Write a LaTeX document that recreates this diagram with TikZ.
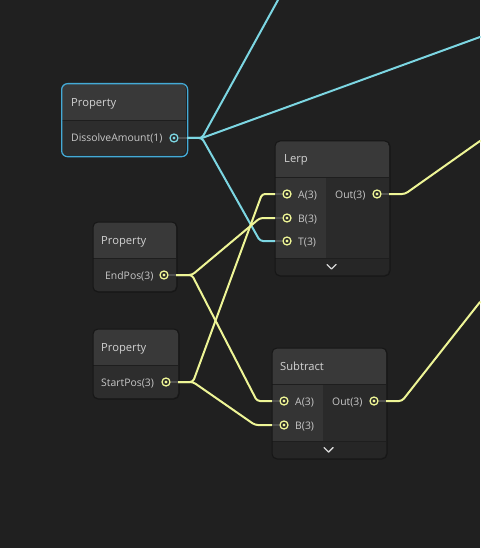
\documentclass[tikz,border=0pt]{standalone}
\usepackage{fontspec}
\setmainfont{Open Sans}
\begin{document}
\begin{tikzpicture}[x=1pt,y=-1pt,
  wirec/.style={line width=2pt, draw={rgb,255:red,124;green,214;blue,226}, rounded corners=3pt, line cap=round},
  wirey/.style={line width=2pt, draw={rgb,255:red,238;green,245;blue,150}, rounded corners=3pt, line cap=round},
  stub/.style={line width=1.6pt, draw={rgb,255:red,80;green,80;blue,80}},
  ttl/.style={anchor=base west, inner sep=0pt, font=\fontsize{11.2}{12}\selectfont, text={rgb,255:red,210;green,210;blue,210}},
  plbl/.style={anchor=base west, inner sep=0pt, font=\fontsize{10.4}{11}\selectfont, text={rgb,255:red,200;green,200;blue,200}},
  pdot/.style={circle, inner sep=0pt, minimum size=8pt, line width=1.3pt, draw=#1, fill={rgb,255:red,40;green,40;blue,40},
    path picture={\fill[#1] (path picture bounding box.center) circle (1.7pt);}},
  frame/.style={draw={rgb,255:red,22;green,22;blue,22}, line width=1pt, rounded corners=5pt},
]
\definecolor{bg}{RGB}{32,32,32}
\definecolor{hdr}{RGB}{57,57,57}
\definecolor{body}{RGB}{45,45,45}
\definecolor{incol}{RGB}{52,52,52}
\definecolor{outcol}{RGB}{42,42,42}
\definecolor{botbar}{RGB}{38,38,38}
\definecolor{divl}{RGB}{30,30,30}
\definecolor{cy}{RGB}{124,214,226}
\definecolor{ye}{RGB}{238,245,150}
\definecolor{sel}{RGB}{68,170,214}
\definecolor{chev}{RGB}{215,215,215}

\fill[bg] (0,0) rectangle (480,548);
\useasboundingbox (0,0) rectangle (480,548);

% ---------- Property: DissolveAmount ----------
\begin{scope}
\clip[rounded corners=5pt] (62,84) rectangle (186,155);
\fill[hdr] (62,84) rectangle (186,121);
\fill[body] (62,121) rectangle (186,155);
\draw[divl, line width=1pt] (62,121) -- (186,121);
\end{scope}
\node[frame, draw=sel, line width=1.3pt, minimum width=126pt, minimum height=73pt, anchor=north west, inner sep=0pt, rounded corners=6pt] (dis) at (61,83) {};
\node[ttl] (distitle) at (71,107) {Property};
\node[plbl] (dislbl) at (71,142) {DissolveAmount(1)};

% ---------- Property: EndPos ----------
\begin{scope}
\clip[rounded corners=5pt] (93,222) rectangle (176,291);
\fill[hdr] (93,222) rectangle (176,258);
\fill[body] (93,258) rectangle (176,291);
\draw[divl, line width=1pt] (93,258) -- (176,258);
\end{scope}
\node[frame, minimum width=84pt, minimum height=70pt, anchor=north west, inner sep=0pt] (endp) at (92.5,221.5) {};
\node[ttl] (endtitle) at (101,244) {Property};
\node[plbl] (endlbl) at (105,279) {EndPos(3)};

% ---------- Property: StartPos ----------
\begin{scope}
\clip[rounded corners=5pt] (93,329) rectangle (178,398);
\fill[hdr] (93,329) rectangle (178,365);
\fill[body] (93,365) rectangle (178,398);
\draw[divl, line width=1pt] (93,365) -- (178,365);
\end{scope}
\node[frame, minimum width=86pt, minimum height=70pt, anchor=north west, inner sep=0pt] (startp) at (92.5,328.5) {};
\node[ttl] (starttitle) at (101,351) {Property};
\node[plbl] (startlbl) at (101,386) {StartPos(3)};

% ---------- Lerp ----------
\begin{scope}
\clip[rounded corners=5pt] (275,141) rectangle (389,275);
\fill[hdr] (275,141) rectangle (389,177);
\fill[incol] (275,177) rectangle (326,258);
\fill[outcol] (326,177) rectangle (389,258);
\fill[botbar] (275,258) rectangle (389,275);
\draw[divl, line width=1pt] (275,177) -- (389,177);
\draw[divl, line width=1pt] (275,258) -- (389,258);
\end{scope}
\node[frame, minimum width=115pt, minimum height=135pt, anchor=north west, inner sep=0pt] (lerp) at (274.5,140.5) {};
\node[ttl] (lerptitle) at (284,163) {Lerp};
\node[plbl] (lerpA) at (298,198) {A(3)};
\node[plbl] (lerpB) at (298,222) {B(3)};
\node[plbl] (lerpT) at (298,245) {T(3)};
\node[plbl] (lerpOut) at (335,198) {Out(3)};
\draw[chev, line width=1.4pt, line cap=round, line join=round] (327,264.5) -- (331.5,269) -- (336,264.5);

% ---------- Subtract ----------
\begin{scope}
\clip[rounded corners=5pt] (272,348) rectangle (386,458);
\fill[hdr] (272,348) rectangle (386,384);
\fill[incol] (272,384) rectangle (323,441);
\fill[outcol] (323,384) rectangle (386,441);
\fill[botbar] (272,441) rectangle (386,458);
\draw[divl, line width=1pt] (272,384) -- (386,384);
\draw[divl, line width=1pt] (272,441) -- (386,441);
\end{scope}
\node[frame, minimum width=115pt, minimum height=111pt, anchor=north west, inner sep=0pt] (sub) at (271.5,347.5) {};
\node[ttl] (subtitle) at (280,370) {Subtract};
\node[plbl] (subA) at (295,405) {A(3)};
\node[plbl] (subB) at (295,429) {B(3)};
\node[plbl] (subOut) at (332,405) {Out(3)};
\draw[chev, line width=1.4pt, line cap=round, line join=round] (324,447.5) -- (328.5,452) -- (333,447.5);

% ---------- edge coordinates ----------
\coordinate (disE) at (187,138);
\coordinate (disJ) at (202,138);
\coordinate (topA) at (278,0);
\coordinate (topB) at (480,37);
\coordinate (endE) at (176,275);
\coordinate (endJ) at (192,275);
\coordinate (startE) at (178,382);
\coordinate (startJ) at (193,382);
\coordinate (lerpAE) at (275,194);
\coordinate (lerpBE) at (275,218);
\coordinate (lerpTE) at (275,241);
\coordinate (lerpOE) at (389,194);
\coordinate (lerpOJ) at (405,194);
\coordinate (lerpOX) at (480,141);
\coordinate (subAE) at (272,401);
\coordinate (subBE) at (272,425);
\coordinate (subOE) at (386,401);
\coordinate (subOJ) at (402,401);
\coordinate (subOX) at (480,302);

% ---------- wires ----------
\draw[wirec] (disE) -- (disJ) -- (topA);
\draw[wirec] (disJ) -- (topB);
\draw[wirec] (disE) -- (disJ) -- (260,241) -- (lerpTE);

\draw[wirey] (endE) -- (endJ) -- (260,218) -- (lerpBE);
\draw[wirey] (endE) -- (endJ) -- (257,401) -- (subAE);
\draw[wirey] (startE) -- (startJ) -- (262,194) -- (lerpAE);
\draw[wirey] (startE) -- (startJ) -- (255,425) -- (subBE);
\draw[wirey] (lerpOE) -- (lerpOJ) -- (lerpOX);
\draw[wirey] (subOE) -- (subOJ) -- (subOX);

% ---------- port dots & stubs ----------
\node[pdot=cy] (disO) at (174,138) {};
\draw[stub] (disO) -- (disE);
\node[pdot=ye] (endO) at (164,275) {};
\draw[stub] (endO) -- (endE);
\node[pdot=ye] (startO) at (166,382) {};
\draw[stub] (startO) -- (startE);

\node[pdot=ye] (lerpAd) at (287,194) {};
\node[pdot=ye] (lerpBd) at (287,218) {};
\node[pdot=ye] (lerpTd) at (287,241) {};
\node[pdot=ye] (lerpOd) at (377,194) {};
\draw[stub] (lerpAE) -- (lerpAd);
\draw[stub] (lerpBE) -- (lerpBd);
\draw[stub] (lerpTE) -- (lerpTd);
\draw[stub] (lerpOd) -- (lerpOE);

\node[pdot=ye] (subAd) at (284,401) {};
\node[pdot=ye] (subBd) at (284,425) {};
\node[pdot=ye] (subOd) at (374,401) {};
\draw[stub] (subAE) -- (subAd);
\draw[stub] (subBE) -- (subBd);
\draw[stub] (subOd) -- (subOE);
\end{tikzpicture}
\end{document}
